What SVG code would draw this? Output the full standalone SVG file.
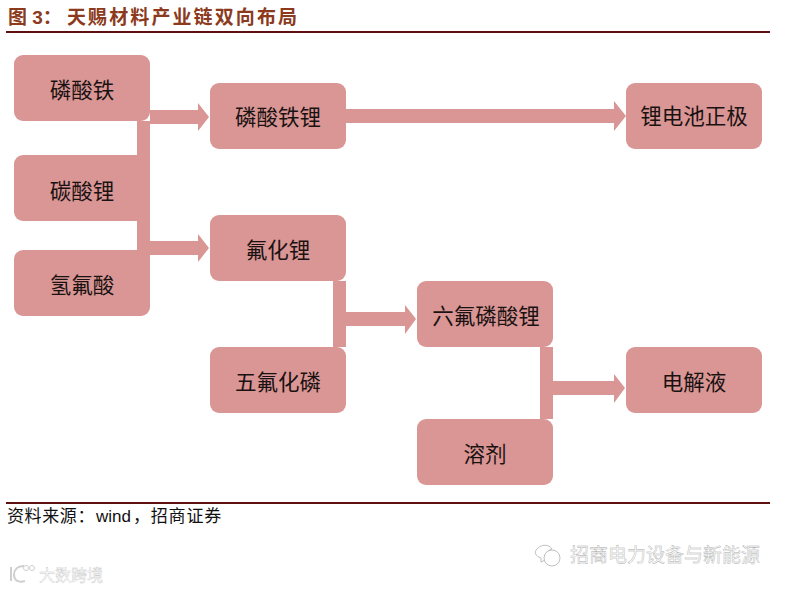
<svg xmlns="http://www.w3.org/2000/svg" width="785" height="590" viewBox="0 0 785 590">
<style>
.n{fill:#d99694}
.c{fill:#d99694}
.t{font-family:"Noto Sans CJK SC","Noto Sans",sans-serif;font-size:21.5px;fill:#1a1212;text-anchor:middle;dominant-baseline:central}
.h{font-family:"Liberation Sans","Noto Sans CJK SC",sans-serif;font-size:19px;font-weight:700;fill:#8c3a1c}
.s{font-family:"Liberation Sans","Noto Sans CJK SC",sans-serif;font-size:17px;fill:#111}
.w{font-family:"Noto Sans CJK SC",sans-serif;fill:#fff;stroke:#a8a8a8;stroke-width:.4}
.i{fill:#fff;stroke:#b0b0b0;stroke-width:.8}
.j{fill:none;stroke:#cfcfcf;stroke-width:2}
</style>
<rect width="785" height="590" fill="#fff"/>
<g id="header">
<text class="h" x="8" y="24">图 3：<tspan x="67" letter-spacing="2.1">天赐材料产业链双向布局</tspan></text>
<rect x="6" y="31" width="764" height="2" fill="#5e0f0f"/>
</g>
<g id="connectors">
<path class="c" d="M137 121H150V110H198V103L209 117L198 131V124H150V241H198V234L209 248L198 262V255H150V262H137Z"/>
<path class="c" d="M346 109H614V101L626 116L614 131V123H346Z"/>
<path class="c" d="M333 281H346V312H405V305L416 319L405 334V326H346V347H333Z"/>
<path class="c" d="M540 347H553V381H614V374L625 388L614 403V395H553V419H540Z"/>
</g>
<g id="n1"><rect class="n" x="14" y="55" width="136" height="66" rx="9"/><text class="t" x="82" y="88">磷酸铁</text></g>
<g id="n2"><rect class="n" x="14" y="155" width="136" height="66" rx="9"/><text class="t" x="82" y="189">碳酸锂</text></g>
<g id="n3"><rect class="n" x="14" y="250" width="136" height="66" rx="9"/><text class="t" x="82" y="283">氢氟酸</text></g>
<g id="n4"><rect class="n" x="210" y="83" width="136" height="66" rx="9"/><text class="t" x="278" y="115">磷酸铁锂</text></g>
<g id="n5"><rect class="n" x="626" y="83" width="136" height="66" rx="9"/><text class="t" x="694" y="114">锂电池正极</text></g>
<g id="n6"><rect class="n" x="210" y="215" width="136" height="66" rx="9"/><text class="t" x="278" y="248">氟化锂</text></g>
<g id="n7"><rect class="n" x="210" y="347" width="136" height="66" rx="9"/><text class="t" x="278" y="380">五氟化磷</text></g>
<g id="n8"><rect class="n" x="417" y="281" width="136" height="66" rx="9"/><text class="t" x="486" y="314">六氟磷酸锂</text></g>
<g id="n9"><rect class="n" x="417" y="419" width="136" height="66" rx="9"/><text class="t" x="485" y="452">溶剂</text></g>
<g id="n10"><rect class="n" x="626" y="347" width="136" height="66" rx="9"/><text class="t" x="694" y="380">电解液</text></g>
<g id="footer">
<rect x="6" y="502" width="764" height="2" fill="#5e0f0f"/>
<text class="s" x="7" y="522" letter-spacing=".6">资料来源：<tspan x="96" letter-spacing="0">wind</tspan><tspan x="133" letter-spacing=".8">，招商证券</tspan></text>
</g>
<g id="watermarks">
<text class="w" x="570" y="562" font-size="19">招商电力设备与新能源</text>
<text class="w" x="39" y="581" font-size="16" style="stroke:#c8c8c8">大数跨境</text>
<path class="i" d="M537 549C541 544 549 544 552 549C546 551 544 556 545 560L541 562L541 558C535 556 534 552 537 549Z"/>
<circle class="i" cx="552" cy="558" r="8"/>
<path class="j" d="M11 567V581M24 566C17 566 14 570 14 575C14 580 18 583 25 581"/>
<circle cx="26" cy="568" r="2.5" fill="none" stroke="#cfcfcf"/>
<circle cx="32" cy="568" r="2.5" fill="none" stroke="#cfcfcf"/>
</g>
</svg>
